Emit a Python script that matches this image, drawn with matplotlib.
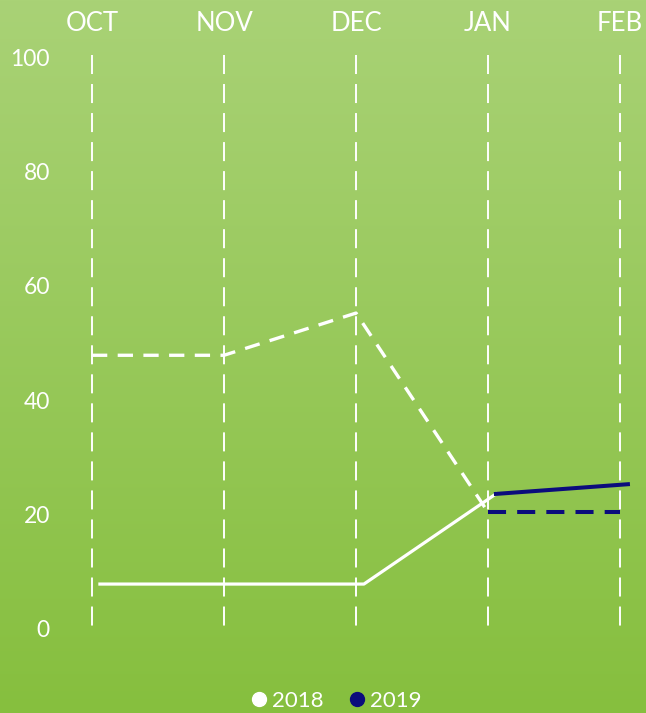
import numpy as np
import matplotlib
matplotlib.use("Agg")
import matplotlib.pyplot as plt
from matplotlib.lines import Line2D
from matplotlib.colors import LinearSegmentedColormap

plt.rcParams["font.family"] = ["Lato", "DejaVu Sans"]
plt.rcParams["lines.scale_dashes"] = False

# data
months = ["OCT", "NOV", "DEC", "JAN", "FEB"]
y_ticks = [0, 20, 40, 60, 80, 100]
actual_2018 = [7.7, 7.7, 7.7, 23.5, np.nan]
target_2018 = [47.8, 47.8, 55.2, 20.3, np.nan]
actual_2019 = [np.nan, np.nan, np.nan, 23.5, 25.2]
target_2019 = [np.nan, np.nan, np.nan, 20.3, 20.3]

NAVY = "#0b0c7c"
SOLID_SHIFT = 0.06  # solid lines sit a little right of the month guides

fig = plt.figure(figsize=(6.46, 7.13), dpi=100)
ax = fig.add_axes([0, 0, 1, 1])
xmin, xmax = -0.697, 4.197
ymin, ymax = -14.9, 110.07
ax.set_xlim(xmin, xmax)
ax.set_ylim(ymin, ymax)
ax.axis("off")

# green gradient background
cmap = LinearSegmentedColormap.from_list("bg", ["#a9d276", "#86bf3e"])
grad = np.linspace(0, 1, 256).reshape(-1, 1)
ax.imshow(grad, cmap=cmap, aspect="auto", extent=(xmin, xmax, ymin, ymax),
          origin="upper", zorder=0)

x = np.arange(len(months))

# dashed month guides
for xi in x:
    ax.plot([xi, xi], [100.5, -0.5], color="white", lw=1.4,
            dashes=(13.7, 7.2), zorder=1, solid_capstyle="butt")

# month labels on top
for xi, m in zip(x, months):
    ax.text(xi, 106.0, m, color="white", fontsize=18.5, ha="center", va="center")

# y labels
for v in y_ticks:
    ax.text(-0.32, v - 0.4, str(v), color="white", fontsize=16.5,
            ha="right", va="center")

ax.plot(x, target_2018, color="white", lw=2.4, dashes=(11, 7.5), zorder=3)
ax.plot(x + SOLID_SHIFT, actual_2018, color="white", lw=2.3, zorder=3)
ax.plot(x, target_2019, color=NAVY, lw=2.9, dashes=(13, 8), zorder=4)
ax.plot(x + SOLID_SHIFT, actual_2019, color=NAVY, lw=2.9, zorder=4)

handles = [
    Line2D([], [], marker="o", ls="none", color="white", markersize=10),
    Line2D([], [], marker="o", ls="none", color=NAVY, markersize=10),
]
fig.legend(handles, ["2018", "2019"], loc="center", bbox_to_anchor=(0.518, 0.017),
           ncol=2, frameon=False, fontsize=16, labelcolor="white",
           handletextpad=0.1, columnspacing=1.0, handlelength=1.0)

fig.savefig("out.png", dpi=100)
